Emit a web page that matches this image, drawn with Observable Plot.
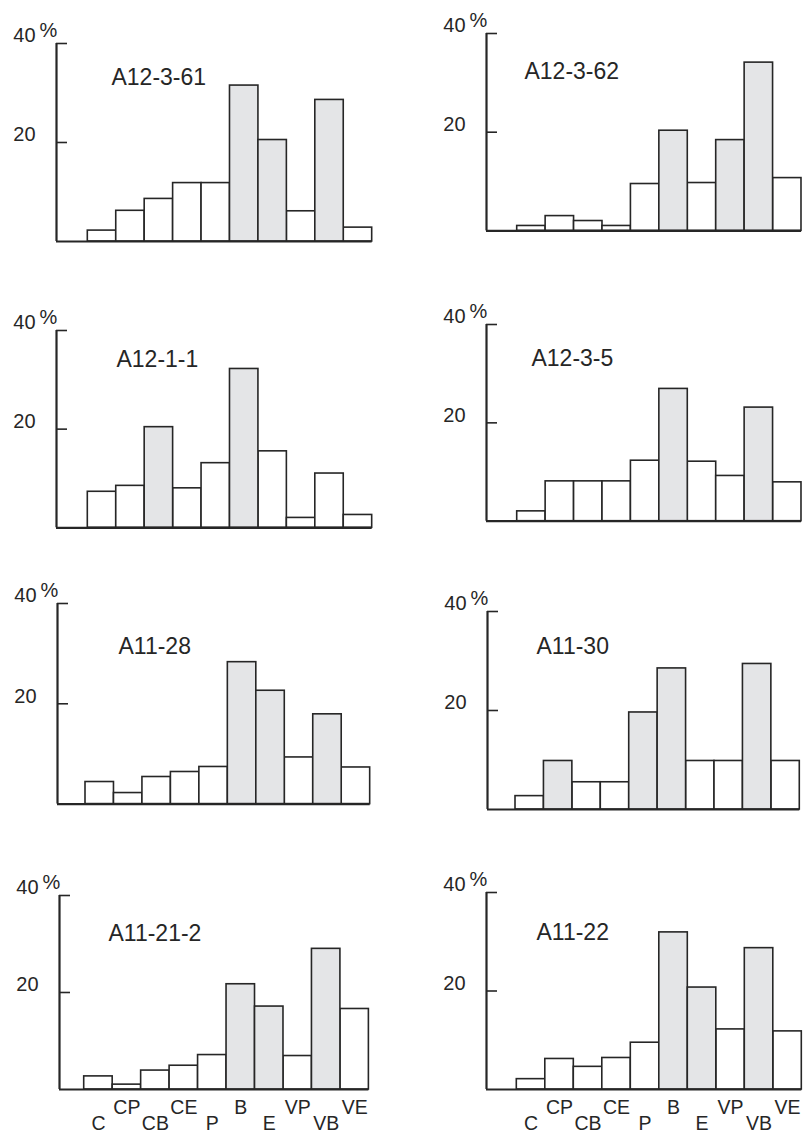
<!DOCTYPE html>
<html><head><meta charset="utf-8">
<script src="https://cdn.jsdelivr.net/npm/d3@7"></script>
<script src="https://cdn.jsdelivr.net/npm/@observablehq/plot@0.6"></script>
<style>
html,body{margin:0;padding:0;background:#fff;}
#chart{position:relative;width:809px;height:1133px;overflow:hidden;background:#fff;}
.panel{position:absolute;}
.panel svg{display:block;overflow:visible;}
</style></head><body><div id="chart"></div>
<script>
// ---- data ----
const categories = ["C", "CP", "CB", "CE", "P", "B", "E", "VP", "VB", "VE"];
const yTicks = [20, 40];
const samples = ["A12-3-61", "A12-3-62", "A12-1-1", "A12-3-5", "A11-28", "A11-30", "A11-21-2", "A11-22"];

const values_A12_3_61 = [2.2, 6.2, 8.6, 11.8, 11.8, 31.5, 20.5, 6.1, 28.6, 2.8];
const values_A12_3_62 = [1.0, 3.0, 2.0, 1.0, 9.5, 20.3, 9.7, 18.4, 34.1, 10.7];
const values_A12_1_1  = [7.3, 8.5, 20.4, 8.0, 13.1, 32.2, 15.5, 2.0, 11.0, 2.6];
const values_A12_3_5  = [2.0, 8.1, 8.1, 8.1, 12.3, 26.9, 12.1, 9.2, 23.1, 7.9];
const values_A11_28   = [4.4, 2.2, 5.4, 6.4, 7.4, 28.3, 22.6, 9.3, 17.9, 7.3];
const values_A11_30   = [2.7, 9.8, 5.5, 5.5, 19.6, 28.5, 9.8, 9.8, 29.4, 9.8];
const values_A11_21_2 = [2.7, 1.0, 3.9, 4.9, 7.1, 21.7, 17.1, 6.9, 29.0, 16.6];
const values_A11_22   = [2.1, 6.2, 4.6, 6.4, 9.5, 31.9, 20.7, 12.2, 28.7, 11.8];

const shaded_A12_3_61 = ["B", "E", "VB"];
const shaded_A12_3_62 = ["B", "VP", "VB"];
const shaded_A12_1_1  = ["CB", "B"];
const shaded_A12_3_5  = ["B", "VB"];
const shaded_A11_28   = ["B", "E", "VB"];
const shaded_A11_30   = ["CP", "P", "B", "VB"];
const shaded_A11_21_2 = ["B", "E", "VB"];
const shaded_A11_22   = ["B", "E", "VB"];

const allValues = [values_A12_3_61, values_A12_3_62, values_A12_1_1, values_A12_3_5,
                   values_A11_28, values_A11_30, values_A11_21_2, values_A11_22];
const allShaded = [shaded_A12_3_61, shaded_A12_3_62, shaded_A12_1_1, shaded_A12_3_5,
                   shaded_A11_28, shaded_A11_30, shaded_A11_21_2, shaded_A11_22];

// ---- layout (pixels on the page) ----
const layout = [
  {axis: 56,    first: 87.3,  right: 371.7, top: 43.3,  base: 241.3,  tx: 55, ty: 42},
  {axis: 486,   first: 516.7, right: 801,   top: 33.3,  base: 230.7,  tx: 38, ty: 46},
  {axis: 56,    first: 87.3,  right: 371.7, top: 330,   base: 527.3,  tx: 60, ty: 37},
  {axis: 486,   first: 516.7, right: 801,   top: 324,   base: 520.7,  tx: 45, ty: 42},
  {axis: 57.3,  first: 85.3,  right: 370,   top: 602.7, base: 803.3,  tx: 61, ty: 51},
  {axis: 486.7, first: 514.7, right: 799,   top: 610.7, base: 808.7,  tx: 49, ty: 43},
  {axis: 59.3,  first: 84,    right: 368.7, top: 895,   base: 1089,   tx: 49, ty: 46, labels: true},
  {axis: 485.7, first: 516,   right: 801,   top: 891.7, base: 1088.7, tx: 50, ty: 48, labels: true}
];

const ink = "#262626";
const gray = "#e4e5e7";
const font = "'Liberation Sans', Arial, Helvetica, sans-serif";
const chart = document.getElementById("chart");

samples.forEach((name, k) => {
  const L = layout[k];
  const shaded = allShaded[k];
  const data = categories.map((c, i) => ({cat: c, i, value: allValues[k][i], shaded: shaded.includes(c)}));
  const mL = 60, mT = 30, mR = 8;
  const mB = L.labels ? 1133 - L.base : 12;
  const plotW = L.right - L.axis;
  const width = mL + plotW + mR;
  const height = mT + (L.base - L.top) + mB;
  const bw = (L.right - L.first) / categories.length;
  const x0 = -(L.first - L.axis) / bw;

  const marks = [
    Plot.rectY(data.filter(d => !d.shaded), {x1: "i", x2: d => d.i + 1, y: "value", fill: "white", stroke: ink, strokeWidth: 1.6}),
    Plot.rectY(data.filter(d => d.shaded), {x1: "i", x2: d => d.i + 1, y: "value", fill: gray, stroke: ink, strokeWidth: 1.6}),
    Plot.ruleY([0], {stroke: ink, strokeWidth: 2.2}),
    Plot.ruleX([x0], {stroke: ink, strokeWidth: 2.2}),
    Plot.ruleY(yTicks, {stroke: ink, strokeWidth: 1.6, insetRight: plotW - 11}),
    Plot.text(yTicks, {frameAnchor: "left", y: d => d, text: d => String(d), textAnchor: "end", lineAnchor: "bottom", dx: -21, dy: -1, fontSize: 20, fill: ink}),
    Plot.text([d3.max(yTicks)], {frameAnchor: "left", y: d => d, text: () => "%", textAnchor: "start", lineAnchor: "bottom", dx: -17, dy: -6, fontSize: 20, fill: ink}),
    Plot.text([name], {frameAnchor: "top-left", text: d => d, textAnchor: "start", lineAnchor: "bottom", dx: L.tx, dy: L.ty, fontSize: 23, fill: ink})
  ];
  if (L.labels) {
    marks.push(Plot.text(data.filter(d => d.i % 2 === 0), {x: d => d.i + 0.5, y: () => 0, text: "cat", lineAnchor: "bottom", dy: 41, fontSize: 19.5, fill: ink}));
    marks.push(Plot.text(data.filter(d => d.i % 2 === 1), {x: d => d.i + 0.5, y: () => 0, text: "cat", lineAnchor: "bottom", dy: 25, fontSize: 19.5, fill: ink}));
  }

  const svg = Plot.plot({
    width, height,
    marginLeft: mL, marginRight: mR, marginTop: mT, marginBottom: mB,
    x: {domain: [x0, categories.length], axis: null},
    y: {domain: [0, d3.max(yTicks)], axis: null},
    style: {fontFamily: font, background: "transparent", overflow: "visible"},
    marks
  });
  const div = document.createElement("div");
  div.className = "panel";
  div.style.left = (L.axis - mL) + "px";
  div.style.top = (L.top - mT) + "px";
  div.appendChild(svg);
  chart.appendChild(div);
});
</script>
</body></html>
